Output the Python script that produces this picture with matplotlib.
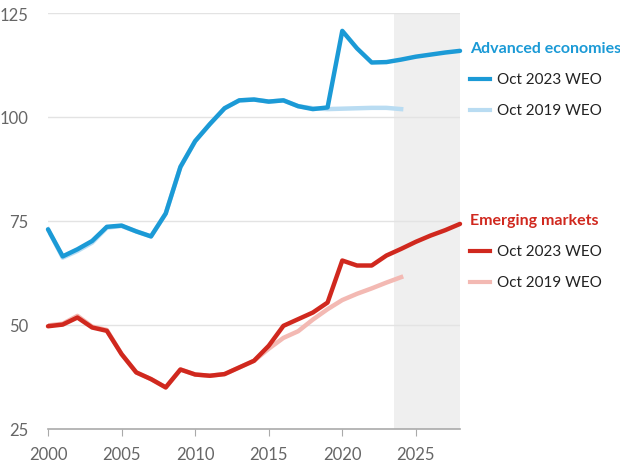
import numpy as np
import matplotlib.pyplot as plt

# DATA (index)

years_2023 = list(range(2000, 2029))
years_2019 = list(range(2000, 2025))

adv_2023 = [73.0, 66.5, 68.2, 70.2, 73.6, 73.9, 72.5, 71.3, 76.8, 88.0,
            94.2, 98.3, 102.1, 104.0, 104.2, 103.7, 104.0, 102.6, 101.9, 102.3,
            120.7, 116.5, 113.1, 113.2, 113.8, 114.5, 115.0, 115.5, 115.9]
adv_2019 = [73.0, 66.2, 67.8, 69.8, 73.4, 73.8, 72.5, 71.3, 76.8, 88.0,
            94.2, 98.3, 102.1, 104.0, 104.2, 103.7, 104.0, 102.6, 102.1, 101.9,
            102.0, 102.1, 102.2, 102.2, 101.9]

em_2023 = [49.7, 50.1, 51.8, 49.4, 48.6, 43.0, 38.6, 37.0, 35.0, 39.3,
           38.1, 37.8, 38.2, 39.8, 41.4, 45.0, 49.8, 51.4, 53.0, 55.4,
           65.5, 64.3, 64.3, 66.7, 68.3, 70.0, 71.5, 72.8, 74.3]
em_2019 = [49.9, 50.3, 52.2, 49.6, 48.8, 43.0, 38.6, 37.0, 35.0, 39.3,
           38.1, 37.8, 38.2, 39.8, 41.4, 44.3, 46.9, 48.5, 51.3, 53.8,
           56.0, 57.5, 58.8, 60.2, 61.5]

y_ticks = [25, 50, 75, 100, 125]
x_ticks = [2000, 2005, 2010, 2015, 2020, 2025]
forecast_start = 2023.5

# COLOURS

BLUE = "#1b9ad6"
BLUE_LIGHT = "#b9dcf2"
RED = "#d0281e"
RED_LIGHT = "#f3b9b3"
GREY_TEXT = "#666666"

# PLOT

fig = plt.figure(figsize=(6.2, 4.64), dpi=100)
ax = fig.add_axes([48 / 620, 1 - 430 / 464, 412 / 620, 416 / 464])

ax.axvspan(forecast_start, 2028, color="#efefef", zorder=0, lw=0)

for y in y_ticks[1:]:
    ax.axhline(y, color="#e3e3e3", lw=1, zorder=1)

ax.plot(years_2019, adv_2019, color=BLUE_LIGHT, lw=3.2, zorder=2)
ax.plot(years_2019, em_2019, color=RED_LIGHT, lw=3.2, zorder=2)
ax.plot(years_2023, adv_2023, color=BLUE, lw=3.2, zorder=3,
        solid_capstyle="round", clip_on=False)
ax.plot(years_2023, em_2023, color=RED, lw=3.2, zorder=3,
        solid_capstyle="round", clip_on=False)

ax.set_xlim(2000, 2028)
ax.set_ylim(25, 125)
ax.set_xticks(x_ticks)
ax.set_yticks(y_ticks)

for side in ["top", "right", "left"]:
    ax.spines[side].set_visible(False)
ax.spines["bottom"].set_color("#aaaaaa")
ax.spines["bottom"].set_linewidth(1.2)

ax.tick_params(axis="x", length=5, color="#aaaaaa", colors=GREY_TEXT,
               labelsize=12, pad=7)
ax.tick_params(axis="y", length=0, colors=GREY_TEXT, labelsize=12, pad=14)
for lab in ax.get_xticklabels() + ax.get_yticklabels():
    lab.set_fontfamily("Lato")
    lab.set_color(GREY_TEXT)

# labels on the right, in figure pixels
def px(x, y):
    return x / 620, 1 - y / 464

def legend_block(title, color, light, y_title):
    fig.text(*px(470, y_title), title, color=color, fontsize=11.5,
             fontweight="bold", family="Lato", va="center", ha="left")
    for i, (c, txt) in enumerate([(color, "Oct 2023 WEO"), (light, "Oct 2019 WEO")]):
        yy = y_title + 31 * (i + 1)
        fig.add_artist(plt.Line2D([470 / 620, 490 / 620], [1 - yy / 464] * 2,
                                  color=c, lw=3, transform=fig.transFigure))
        fig.text(*px(497, yy), txt, color="#222222", fontsize=11,
                 family="Lato", va="center", ha="left")

legend_block("Advanced economies", BLUE, BLUE_LIGHT, 49)
legend_block("Emerging markets", RED, RED_LIGHT, 221)

plt.savefig("out.png", dpi=100)
